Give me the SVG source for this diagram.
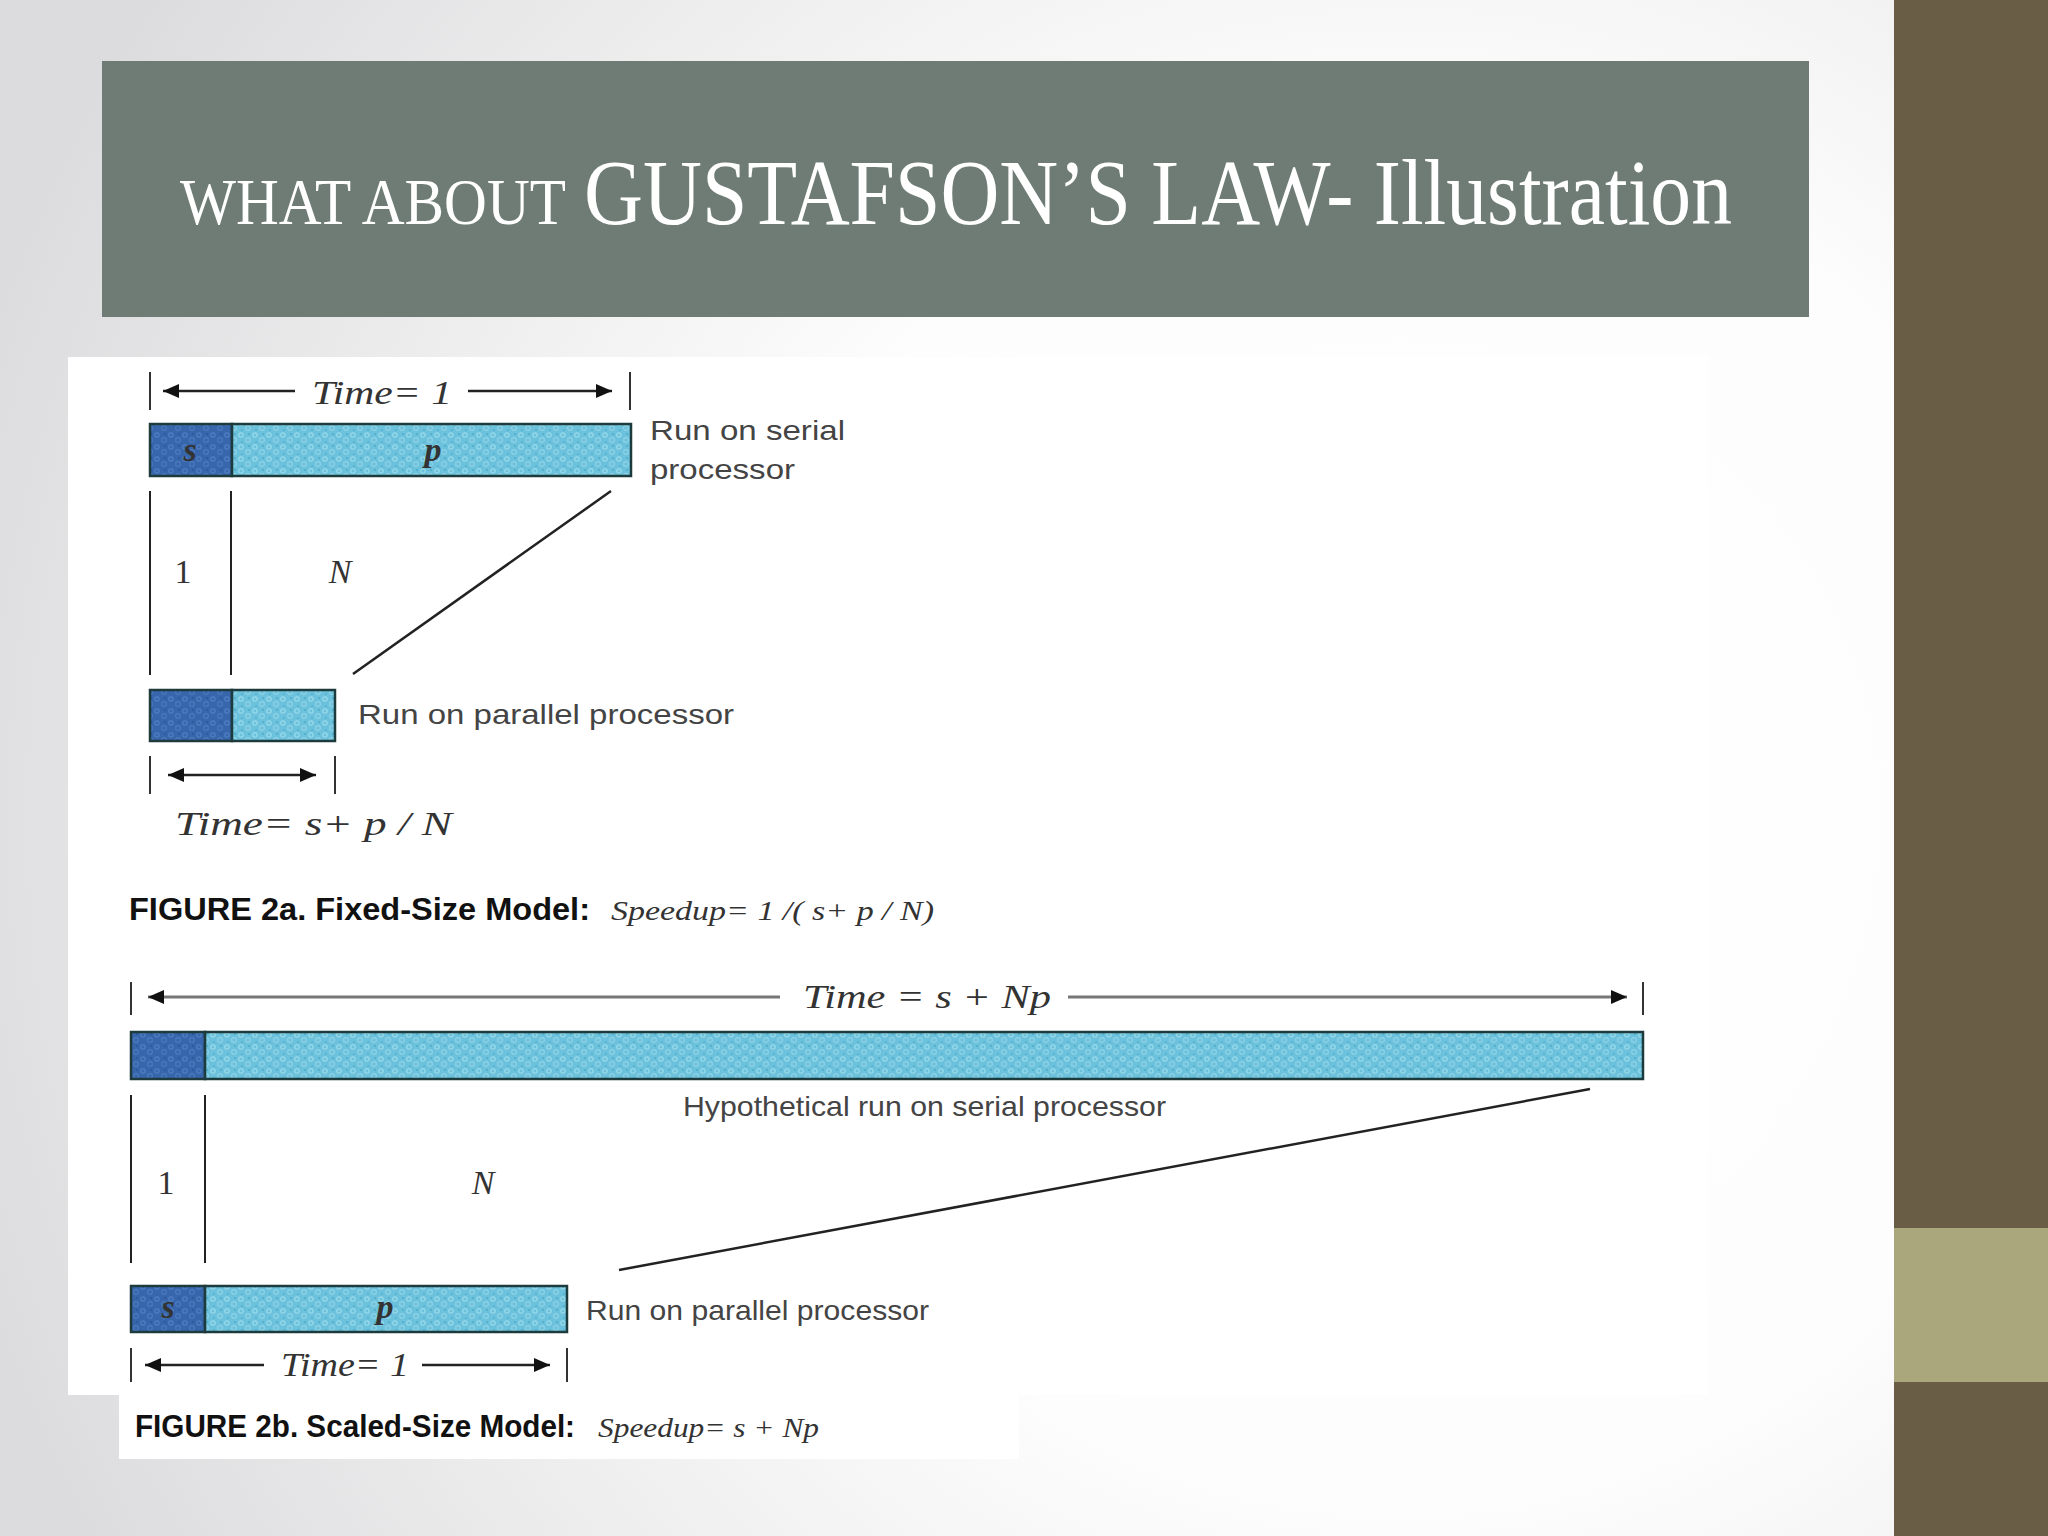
<svg xmlns="http://www.w3.org/2000/svg" width="2048" height="1536" viewBox="0 0 2048 1536">
<defs>
<radialGradient id="bg" gradientUnits="userSpaceOnUse" cx="1400" cy="820" r="1500">
<stop offset="0" stop-color="#ffffff"/>
<stop offset="0.45" stop-color="#fdfdfd"/>
<stop offset="1" stop-color="#dcdcde"/>
</radialGradient>
<pattern id="pLight" patternUnits="userSpaceOnUse" width="14" height="12">
<rect width="14" height="12" fill="#6cc2dc"/>
<circle cx="3" cy="3" r="2.2" fill="none" stroke="#9adbea" stroke-width="1.2"/>
<circle cx="10" cy="8" r="2.4" fill="none" stroke="#8fd3e6" stroke-width="1.1"/>
<circle cx="11" cy="2" r="1" fill="#4fa9c6"/>
<circle cx="4" cy="10" r="1" fill="#55afcc"/>
</pattern>
<pattern id="pDark" patternUnits="userSpaceOnUse" width="14" height="12">
<rect width="14" height="12" fill="#3866ac"/>
<circle cx="3" cy="3" r="2.2" fill="none" stroke="#4f80c2" stroke-width="1.2"/>
<circle cx="10" cy="8" r="2.4" fill="none" stroke="#4a7bbd" stroke-width="1.1"/>
<circle cx="11" cy="2" r="1" fill="#2a5496"/>
</pattern>
<marker id="ah" markerUnits="userSpaceOnUse" markerWidth="18" markerHeight="16" refX="16" refY="8" orient="auto-start-reverse">
<path d="M0,1 L16,8 L0,15 Z" fill="#111"/>
</marker>
</defs>
<style>
.lbl{font-family:"Liberation Sans",Arial,sans-serif;font-size:28px;fill:#444}
.math{font-family:"Liberation Serif","Times New Roman",serif;font-style:italic;font-size:34px;fill:#333}
.num{font-family:"Liberation Serif","Times New Roman",serif;font-size:34px;fill:#333}
.cap{font-family:"Liberation Sans",Arial,sans-serif;font-weight:bold;font-size:31px;fill:#111}
.capm{font-family:"Liberation Serif","Times New Roman",serif;font-style:italic;font-size:28px;fill:#333}
.bar{stroke:#1d3a3c;stroke-width:2.5}
.tick{stroke:#333;stroke-width:2}
.dim{stroke:#222;stroke-width:2.5;fill:none}
.dim2{stroke:#777;stroke-width:3;fill:none}
.vl{stroke:#222;stroke-width:2}
.diag{stroke:#222;stroke-width:2.5;fill:none}
.title{font-family:"Liberation Serif","Times New Roman",serif;fill:#ffffff}
</style>

<rect width="2048" height="1536" fill="url(#bg)"/>
<g id="sidebar">
<rect x="1894" y="0" width="154" height="1536" fill="#695e45"/>
<rect x="1894" y="1228" width="154" height="154" fill="#aba77c"/>
</g>

<g id="title-box">
<rect x="102" y="61" width="1707" height="256" fill="#6e7c75"/>
<text class="title" x="180" y="224" font-size="66" textLength="386" lengthAdjust="spacingAndGlyphs">WHAT ABOUT</text>
<text class="title" x="584" y="224" font-size="94" textLength="1148" lengthAdjust="spacingAndGlyphs">GUSTAFSON’S LAW- Illustration</text>
</g>

<g id="figure-image">
<rect x="68" y="357" width="1640" height="1038" fill="#ffffff"/>
<rect x="119" y="1395" width="900" height="64" fill="#ffffff"/>
</g>

<!-- Figure 2a -->
<g id="fig2a-time-top">
<line class="tick" x1="150" y1="372" x2="150" y2="410"/>
<line class="tick" x1="630" y1="372" x2="630" y2="410"/>
<text class="math" x="312" y="404" textLength="140" lengthAdjust="spacingAndGlyphs">Time= 1</text>
</g>
<g id="fig2a-serial-bar">
<rect class="bar" x="150" y="424" width="82" height="52" fill="url(#pDark)"/>
<rect class="bar" x="232" y="424" width="399" height="52" fill="url(#pLight)"/>
<text class="math" x="190" y="461" text-anchor="middle" font-weight="bold" fill="#123">s</text>
<text class="math" x="433" y="461" text-anchor="middle" font-weight="bold" fill="#123">p</text>
<text class="lbl" x="650" y="440" textLength="195" lengthAdjust="spacingAndGlyphs">Run on serial</text>
<text class="lbl" x="650" y="479" textLength="145" lengthAdjust="spacingAndGlyphs">processor</text>
</g>
<g id="fig2a-procs">
<text class="num" x="183" y="583" text-anchor="middle">1</text>
<text class="math" x="340" y="583" text-anchor="middle">N</text>
</g>
<g id="fig2a-parallel-bar">
<rect class="bar" x="150" y="690" width="82" height="51" fill="url(#pDark)"/>
<rect class="bar" x="232" y="690" width="103" height="51" fill="url(#pLight)"/>
<text class="lbl" x="358" y="724" textLength="376" lengthAdjust="spacingAndGlyphs">Run on parallel processor</text>
</g>
<g id="fig2a-time-bottom">
<line class="tick" x1="150" y1="756" x2="150" y2="794"/>
<line class="tick" x1="335" y1="756" x2="335" y2="794"/>
<text class="math" x="175" y="835" textLength="277" lengthAdjust="spacingAndGlyphs">Time= s+  p / N</text>
</g>
<g id="fig2a-caption">
<text class="cap" x="129" y="920" textLength="461" lengthAdjust="spacingAndGlyphs">FIGURE 2a. Fixed-Size Model:</text>
<text class="capm" x="611" y="920" textLength="323" lengthAdjust="spacingAndGlyphs">Speedup= 1 /( s+  p / N)</text>
</g>

<!-- Figure 2b -->
<g id="fig2b-time-top">
<line class="tick" x1="131" y1="982" x2="131" y2="1015"/>
<line class="tick" x1="1643" y1="982" x2="1643" y2="1015"/>
<text class="math" x="803" y="1008" textLength="248" lengthAdjust="spacingAndGlyphs">Time = s + Np</text>
</g>
<g id="fig2b-serial-bar">
<rect class="bar" x="131" y="1032" width="74" height="47" fill="url(#pDark)"/>
<rect class="bar" x="205" y="1032" width="1438" height="47" fill="url(#pLight)"/>
<text class="lbl" x="683" y="1116" textLength="483" lengthAdjust="spacingAndGlyphs">Hypothetical run on serial processor</text>
</g>
<g id="fig2b-procs">
<text class="num" x="166" y="1194" text-anchor="middle">1</text>
<text class="math" x="483" y="1194" text-anchor="middle">N</text>
</g>
<g id="fig2b-parallel-bar">
<rect class="bar" x="131" y="1286" width="74" height="46" fill="url(#pDark)"/>
<rect class="bar" x="205" y="1286" width="362" height="46" fill="url(#pLight)"/>
<text class="math" x="168" y="1318" text-anchor="middle" font-weight="bold" fill="#123">s</text>
<text class="math" x="385" y="1318" text-anchor="middle" font-weight="bold" fill="#123">p</text>
<text class="lbl" x="586" y="1320" textLength="343" lengthAdjust="spacingAndGlyphs">Run on parallel processor</text>
</g>
<g id="fig2b-time-bottom">
<line class="tick" x1="131" y1="1348" x2="131" y2="1382"/>
<line class="tick" x1="567" y1="1348" x2="567" y2="1382"/>
<text class="math" x="281" y="1376" textLength="128" lengthAdjust="spacingAndGlyphs">Time= 1</text>
</g>
<g id="fig2b-caption">
<text class="cap" x="135" y="1437" textLength="440" lengthAdjust="spacingAndGlyphs">FIGURE 2b. Scaled-Size Model:</text>
<text class="capm" x="598" y="1437" textLength="221" lengthAdjust="spacingAndGlyphs">Speedup= s + Np</text>
</g>

<g id="connectors">
<line class="dim" x1="295" y1="391" x2="163" y2="391" marker-end="url(#ah)"/>
<line class="dim" x1="468" y1="391" x2="612" y2="391" marker-end="url(#ah)"/>
<line class="dim" x1="168" y1="775" x2="316" y2="775" marker-start="url(#ah)" marker-end="url(#ah)"/>
<line class="vl" x1="150" y1="491" x2="150" y2="675"/>
<line class="vl" x1="231" y1="491" x2="231" y2="675"/>
<line class="diag" x1="611" y1="491" x2="353" y2="674"/>
<line class="dim2" x1="780" y1="997" x2="148" y2="997" marker-end="url(#ah)"/>
<line class="dim2" x1="1068" y1="997" x2="1627" y2="997" marker-end="url(#ah)"/>
<line class="dim" x1="264" y1="1365" x2="145" y2="1365" marker-end="url(#ah)"/>
<line class="dim" x1="422" y1="1365" x2="550" y2="1365" marker-end="url(#ah)"/>
<line class="vl" x1="131" y1="1095" x2="131" y2="1263"/>
<line class="vl" x1="205" y1="1095" x2="205" y2="1263"/>
<line class="diag" x1="1590" y1="1089" x2="619" y2="1270"/>
</g>
</svg>
